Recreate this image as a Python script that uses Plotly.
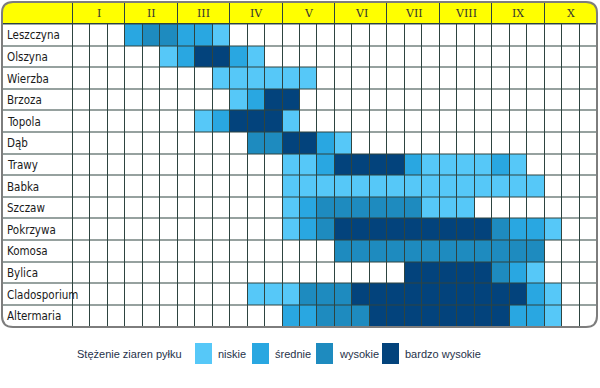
import plotly.graph_objects as go

# ---------------- data ----------------
months = ["I", "II", "III", "IV", "V", "VI", "VII", "VIII", "IX", "X"]
plants = ["Leszczyna", "Olszyna", "Wierzba", "Brzoza", "Topola", "Dąb", "Trawy",
          "Babka", "Szczaw", "Pokrzywa", "Komosa", "Bylica", "Cladosporium", "Altermaria"]

# concentration level per decade (3 per month, I..X): 0 none, 1 niskie, 2 średnie, 3 wysokie, 4 bardzo wysokie
leszczyna    = [0,0,0, 2,3,3, 2,2,1, 0,0,0, 0,0,0, 0,0,0, 0,0,0, 0,0,0, 0,0,0, 0,0,0]
olszyna      = [0,0,0, 0,0,1, 2,4,4, 2,1,0, 0,0,0, 0,0,0, 0,0,0, 0,0,0, 0,0,0, 0,0,0]
wierzba      = [0,0,0, 0,0,0, 0,0,1, 1,1,1, 1,1,0, 0,0,0, 0,0,0, 0,0,0, 0,0,0, 0,0,0]
brzoza       = [0,0,0, 0,0,0, 0,0,0, 1,2,4, 4,0,0, 0,0,0, 0,0,0, 0,0,0, 0,0,0, 0,0,0]
topola       = [0,0,0, 0,0,0, 0,1,2, 4,4,4, 1,0,0, 0,0,0, 0,0,0, 0,0,0, 0,0,0, 0,0,0]
dab          = [0,0,0, 0,0,0, 0,0,0, 0,3,3, 4,4,2, 1,0,0, 0,0,0, 0,0,0, 0,0,0, 0,0,0]
trawy        = [0,0,0, 0,0,0, 0,0,0, 0,0,0, 1,1,2, 4,4,4, 4,2,1, 1,1,1, 2,1,0, 0,0,0]
babka        = [0,0,0, 0,0,0, 0,0,0, 0,0,0, 1,1,1, 1,1,1, 1,1,1, 1,1,1, 1,1,1, 0,0,0]
szczaw       = [0,0,0, 0,0,0, 0,0,0, 0,0,0, 1,2,3, 3,3,3, 3,3,1, 1,1,0, 0,0,0, 0,0,0]
pokrzywa     = [0,0,0, 0,0,0, 0,0,0, 0,0,0, 1,2,3, 4,4,4, 4,4,4, 4,4,4, 3,2,2, 1,0,0]
komosa       = [0,0,0, 0,0,0, 0,0,0, 0,0,0, 0,0,0, 3,3,3, 3,3,3, 3,3,3, 3,3,3, 0,0,0]
bylica       = [0,0,0, 0,0,0, 0,0,0, 0,0,0, 0,0,0, 0,0,0, 0,4,4, 4,4,4, 3,2,1, 0,0,0]
cladosporium = [0,0,0, 0,0,0, 0,0,0, 0,1,1, 1,3,3, 3,4,4, 4,4,4, 4,4,4, 4,4,2, 1,0,0]
altermaria   = [0,0,0, 0,0,0, 0,0,0, 0,0,0, 2,2,3, 3,3,4, 4,4,4, 4,4,4, 4,2,2, 1,0,0]

rows = [leszczyna, olszyna, wierzba, brzoza, topola, dab, trawy,
        babka, szczaw, pokrzywa, komosa, bylica, cladosporium, altermaria]

legend_title = "Stężenie ziaren pyłku"
level_names = ["niskie", "średnie", "wysokie", "bardzo wysokie"]
level_colors = ["#56c8f8", "#29a7e1", "#1e8bbf", "#03437c"]

# ---------------- layout geometry ----------------
W, H = 600, 388
L, R, T, B = 2, 597, 2, 327          # table box in pixels
n = len(plants)
ndec = 3 * len(months)
label_w = 4.06                        # label column width in decade units
head_h = 1.04                         # header height in row units

def px(x):
    return (x - L) / (R - L)

def py(y):
    return (B - y) / (B - T)

def P(x, y):
    return f"{px(x):.5f},{py(y):.5f}"

colors = ["#ffffff"] + level_colors + ["#ffff00"]
zmax = len(colors) - 1
colorscale = []
for v, c in enumerate(colors):
    lo = max(0.0, (v - 0.5) / zmax)
    hi = min(1.0, (v + 0.5) / zmax)
    colorscale += [[lo, c], [hi, c]]

# body
x_edges = [-label_w] + list(range(0, ndec + 1))
y_edges = list(range(0, n + 1))
z_body = [[0] + rows[n - 1 - k] for k in range(n)]

# header
hx_edges = [-label_w] + [3 * i for i in range(len(months) + 1)]
hy_edges = [n, n + head_h]
z_head = [[zmax] * (len(months) + 1)]

fig = go.Figure()
fig.add_trace(go.Heatmap(x=x_edges, y=y_edges, z=z_body, zmin=0, zmax=zmax,
                         colorscale=colorscale, showscale=False, xgap=1, ygap=1,
                         hoverinfo="skip"))
fig.add_trace(go.Heatmap(x=hx_edges, y=hy_edges, z=z_head, zmin=0, zmax=zmax,
                         colorscale=colorscale, showscale=False, xgap=1, ygap=1,
                         hoverinfo="skip"))

label_font = dict(family="Liberation Sans Narrow, DejaVu Sans Condensed, Liberation Sans",
                  size=11.5, color="#1a1a1a")
annotations = []
for i, name in enumerate(plants):
    annotations.append(dict(x=-label_w, y=n - i - 0.5, xref="x", yref="y", text=name,
                            showarrow=False, xanchor="left", yanchor="middle", xshift=3,
                            font=label_font))
for i, m in enumerate(months):
    annotations.append(dict(x=3 * i + 1.5, y=n + head_h / 2, xref="x", yref="y", text=m,
                            showarrow=False, yanchor="middle",
                            font=dict(family="DejaVu Serif", size=11, color="#333333")))

shapes = []
# rounded corner masks
r = 11
e = 3
corner_paths = [
    f"M {P(L-e,T-e)} L {P(L+r,T-e)} L {P(L+r,T)} Q {P(L,T)} {P(L,T+r)} L {P(L-e,T+r)} Z",
    f"M {P(R+e,T-e)} L {P(R-r,T-e)} L {P(R-r,T)} Q {P(R,T)} {P(R,T+r)} L {P(R+e,T+r)} Z",
    f"M {P(L-e,B+e)} L {P(L+r,B+e)} L {P(L+r,B)} Q {P(L,B)} {P(L,B-r)} L {P(L-e,B-r)} Z",
    f"M {P(R+e,B+e)} L {P(R-r,B+e)} L {P(R-r,B)} Q {P(R,B)} {P(R,B-r)} L {P(R+e,B-r)} Z",
]
for cp in corner_paths:
    shapes.append(dict(type="path", xref="paper", yref="paper", path=cp,
                       fillcolor="#ffffff", line=dict(width=0)))
border = (f"M {P(L+r,T)} L {P(R-r,T)} Q {P(R,T)} {P(R,T+r)} L {P(R,B-r)} "
          f"Q {P(R,B)} {P(R-r,B)} L {P(L+r,B)} Q {P(L,B)} {P(L,B-r)} "
          f"L {P(L,T+r)} Q {P(L,T)} {P(L+r,T)} Z")
shapes.append(dict(type="path", xref="paper", yref="paper", path=border,
                   line=dict(color="#7d7d7d", width=2)))

# legend
leg_y0, leg_y1 = 343, 364
leg_cy = (leg_y0 + leg_y1) / 2
leg_font = dict(family="Liberation Sans", size=11, color="#26324a")
annotations.append(dict(x=px(75), y=py(leg_cy), xref="paper", yref="paper",
                        text=legend_title, showarrow=False, xanchor="left", yanchor="middle",
                        font=leg_font))
sw_x = [195, 252, 316, 382]
for name, col, x0 in zip(level_names, level_colors, sw_x):
    shapes.append(dict(type="rect", xref="paper", yref="paper",
                       x0=px(x0), x1=px(x0 + 17), y0=py(leg_y1), y1=py(leg_y0),
                       fillcolor=col, line=dict(width=0)))
    annotations.append(dict(x=px(x0 + 21), y=py(leg_cy), xref="paper", yref="paper",
                            text=name, showarrow=False, xanchor="left", yanchor="middle",
                            font=leg_font))

fig.update_layout(
    width=W, height=H,
    margin=dict(l=L, r=W - R, t=T, b=H - B, pad=0),
    paper_bgcolor="#ffffff", plot_bgcolor="#2e4440",
    xaxis=dict(range=[-label_w, ndec], visible=False, fixedrange=True),
    yaxis=dict(range=[0, n + head_h], visible=False, fixedrange=True),
    annotations=annotations, shapes=shapes, showlegend=False,
)

fig.write_html("out.html", config={"displayModeBar": False},
               post_script="document.body.style.margin='0';document.body.style.overflow='hidden';")
